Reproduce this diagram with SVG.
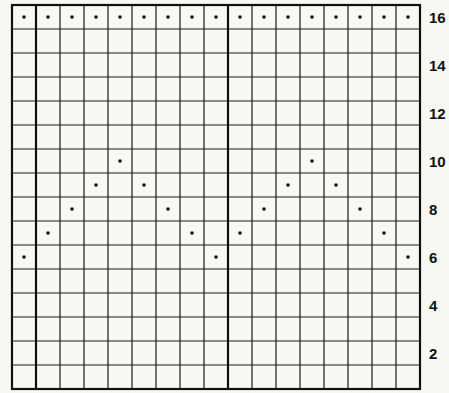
<svg xmlns="http://www.w3.org/2000/svg" width="449" height="393" viewBox="0 0 449 393">
<style>
.g{stroke:#1a1a1a;stroke-width:1.2;fill:none}
.t{stroke:#111;stroke-width:2.2;fill:none}
.d{fill:#111}
.n{font-family:"Liberation Sans",Arial,sans-serif;font-weight:bold;font-size:15px;fill:#111}
</style>
<rect width="449" height="393" fill="#f8f9f4"/>
<g id="grid">
<path class="g" d="M60 5V389M84 5V389M108 5V389M132 5V389M156 5V389M180 5V389M204 5V389M252 5V389M276 5V389M300 5V389M324 5V389M348 5V389M372 5V389M396 5V389"/>
<path class="g" d="M12 29H420M12 53H420M12 77H420M12 101H420M12 125H420M12 149H420M12 173H420M12 197H420M12 221H420M12 245H420M12 293H420M12 317H420M12 341H420M12 365H420"/>
<path class="g" stroke-width="1.6" d="M12 269H420"/>
<path class="t" d="M36 5V389M228 5V389"/>
<rect class="t" x="12" y="5" width="408" height="384"/>
</g>
<g id="dots">
<circle class="d" cx="24" cy="17" r="1.8"/><circle class="d" cx="48" cy="17" r="1.8"/><circle class="d" cx="72" cy="17" r="1.8"/><circle class="d" cx="96" cy="17" r="1.8"/><circle class="d" cx="120" cy="17" r="1.8"/><circle class="d" cx="144" cy="17" r="1.8"/><circle class="d" cx="168" cy="17" r="1.8"/><circle class="d" cx="192" cy="17" r="1.8"/><circle class="d" cx="216" cy="17" r="1.8"/><circle class="d" cx="240" cy="17" r="1.8"/><circle class="d" cx="264" cy="17" r="1.8"/><circle class="d" cx="288" cy="17" r="1.8"/><circle class="d" cx="312" cy="17" r="1.8"/><circle class="d" cx="336" cy="17" r="1.8"/><circle class="d" cx="360" cy="17" r="1.8"/><circle class="d" cx="384" cy="17" r="1.8"/><circle class="d" cx="408" cy="17" r="1.8"/>
<circle class="d" cx="120" cy="161" r="1.8"/><circle class="d" cx="312" cy="161" r="1.8"/>
<circle class="d" cx="96" cy="185" r="1.8"/><circle class="d" cx="144" cy="185" r="1.8"/><circle class="d" cx="288" cy="185" r="1.8"/><circle class="d" cx="336" cy="185" r="1.8"/>
<circle class="d" cx="72" cy="209" r="1.8"/><circle class="d" cx="168" cy="209" r="1.8"/><circle class="d" cx="264" cy="209" r="1.8"/><circle class="d" cx="360" cy="209" r="1.8"/>
<circle class="d" cx="48" cy="233" r="1.8"/><circle class="d" cx="192" cy="233" r="1.8"/><circle class="d" cx="240" cy="233" r="1.8"/><circle class="d" cx="384" cy="233" r="1.8"/>
<circle class="d" cx="24" cy="257" r="1.8"/><circle class="d" cx="216" cy="257" r="1.8"/><circle class="d" cx="408" cy="257" r="1.8"/>
</g>
<g id="labels">
<text class="n" x="429" y="23">16</text>
<text class="n" x="429" y="71">14</text>
<text class="n" x="429" y="119">12</text>
<text class="n" x="429" y="167">10</text>
<text class="n" x="429" y="215">8</text>
<text class="n" x="429" y="263">6</text>
<text class="n" x="429" y="311">4</text>
<text class="n" x="429" y="359">2</text>
</g>
</svg>
